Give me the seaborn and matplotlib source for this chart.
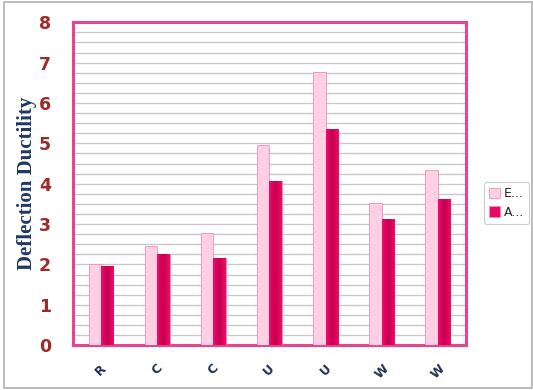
import numpy as np
import pandas as pd
import matplotlib.pyplot as plt
import seaborn as sns
from matplotlib.colors import LinearSegmentedColormap

categories = ["R", "C", "C ", "U", "U ", "W", "W "]
tick_labels = ["R", "C", "C", "U", "U", "W", "W"]
series_names = ["E...", "A..."]
experimental = [2.0, 2.45, 2.77, 4.97, 6.76, 3.51, 4.33]
analytical = [1.96, 2.25, 2.15, 4.06, 5.35, 3.12, 3.61]

df = pd.DataFrame({
    "specimen": categories * 2,
    "ductility": experimental + analytical,
    "series": [series_names[0]] * 7 + [series_names[1]] * 7,
})

sns.set_style("white")
fig = plt.figure(figsize=(5.33, 3.9), dpi=100)
ax = fig.add_axes([0.137, 0.115, 0.737, 0.828])

palette = {series_names[0]: "#FFD0E4", series_names[1]: "#EC0766"}
sns.barplot(data=df, x="specimen", y="ductility", hue="series",
            palette=palette, width=0.44, ax=ax, saturation=1,
            edgecolor="#F48FB8", linewidth=0.6, zorder=3)

# shade the dark bars darker in the middle like the original
cmap = LinearSegmentedColormap.from_list("bar", ["#F40A6C", "#C4004E", "#F40A6C"])
grad = np.linspace(0, 1, 64).reshape(1, -1)
for bar in ax.patches[7:14]:
    x0, y0 = bar.get_x(), bar.get_y()
    w, h = bar.get_width(), bar.get_height()
    if h <= 0:
        continue
    im = ax.imshow(grad, cmap=cmap, aspect="auto", extent=[x0, x0 + w, y0, y0 + h],
                   zorder=4)
    im.set_clip_path(bar)

ax.set_xlim(-0.5, 6.5)
ax.set_ylim(0, 8)
ax.set_yticks(range(0, 9))
ax.set_yticks(np.arange(0, 8.01, 0.25), minor=True)
ax.grid(True, which="both", axis="y", color="#C8C8C8", linewidth=1.0, zorder=0)
ax.set_axisbelow(True)

for s in ax.spines.values():
    s.set_color("#E8468C")
    s.set_linewidth(2.2)

ax.set_xticks(range(7))
ax.set_xticklabels(tick_labels, rotation=45, fontsize=9, fontweight="bold",
                   color="#1F3050")
ax.tick_params(axis="y", which="both", length=0, labelsize=12.5, labelcolor="#9E2A2A",
               pad=16)
for t in ax.get_yticklabels():
    t.set_fontweight("bold")
ax.tick_params(axis="x", length=0, pad=12)
ax.set_xlabel("")
ax.set_ylabel("Deflection Ductility", fontsize=15, fontweight="bold",
              family="Liberation Serif", color="#1F3864", labelpad=1)

leg = ax.legend(loc="center left", bbox_to_anchor=(1.04, 0.44), fontsize=9,
                frameon=True, handlelength=0.9, handleheight=0.9,
                borderpad=0.4, labelspacing=0.45, handletextpad=0.3,
                borderaxespad=0.2)
leg.get_frame().set_edgecolor("#C0C0C0")
leg.get_frame().set_linewidth(0.8)

fig.patches.append(plt.Rectangle((0.008, 0.005), 0.99, 0.99, transform=fig.transFigure,
                                 fill=False, edgecolor="#B0B0B0", linewidth=1.2))

fig.savefig("out.png", dpi=100)
